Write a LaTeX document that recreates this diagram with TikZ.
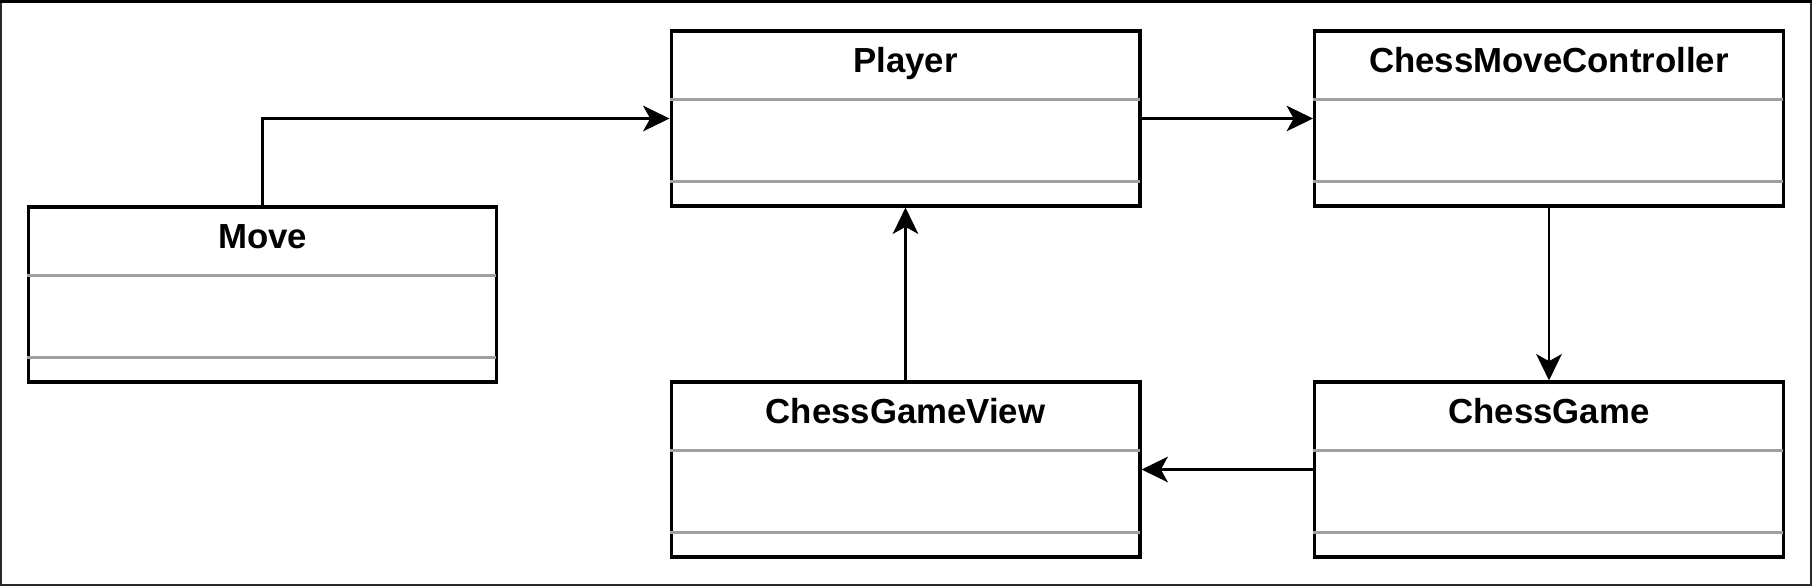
\documentclass[tikz,border=0pt]{standalone}
\usepackage{fontspec}
\setmainfont{Liberation Sans}
\usepackage{xcolor}
\usepackage{tikz}
\usetikzlibrary{arrows.meta,positioning,calc}
\definecolor{ink}{HTML}{000000}
\definecolor{sepGray}{HTML}{A0A0A0}
\definecolor{frameInk}{HTML}{2A2A2A}

\begin{document}
\begin{tikzpicture}[x=0.02cm,y=-0.02cm,>={Stealth[length=15pt,width=14.5pt,inset=4pt]},
  classbox/.style={draw=ink,line width=1.75pt,fill=white,minimum width=9.38cm,minimum height=3.5cm,inner sep=0pt},
  classname/.style={font=\fontsize{19.8}{23}\selectfont\bfseries,inner sep=0pt,anchor=base},
  sepline/.style={draw=sepGray,line width=1.4pt},
  link/.style={->,draw=ink,line width=1.65pt}]
\useasboundingbox (0,0) rectangle (1812,586);
\draw[frameInk,line width=1.2pt] (1,1) rectangle (1811,585);
\draw[black,line width=1.7pt] (0,1.5) -- (1812,1.5);
% class boxes
\node[classbox] (move)   at (262.5,294.5) {};
\node[classbox] (player) at (905.5,118.5) {};
\node[classbox] (ctrl)   at (1549,118.5) {};
\node[classbox] (view)   at (905.5,469.5) {};
\node[classbox] (game)   at (1549,469.5) {};
\foreach \b in {move,player,ctrl,view,game} {
  \draw[sepline] ($(\b.north west)+(0,70)$) -- ($(\b.north east)+(-2,70)$);
  \draw[sepline] ($(\b.north west)+(0,152)$) -- ($(\b.north east)+(-2,152)$);
}
\node[classname] (tmove)   at ($(move.north)+(0,43.5)$)   {Move};
\node[classname] (tplayer) at ($(player.north)+(0,43.5)$) {Player};
\node[classname] (tctrl)   at ($(ctrl.north)+(0,43.5)$)   {ChessMoveController};
\node[classname] (tview)   at ($(view.north)+(0,43.5)$)   {ChessGameView};
\node[classname] (tgame)   at ($(game.north)+(0,43.5)$)   {ChessGame};
% associations
\draw[link] (move.north) |- (player.west);
\draw[link] (player.east) -- (ctrl.west);
\draw[link] (ctrl.south) -- (game.north);
\draw[link] (game.west) -- (view.east);
\draw[link] (view.north) -- (player.south);
\end{tikzpicture}
\end{document}
